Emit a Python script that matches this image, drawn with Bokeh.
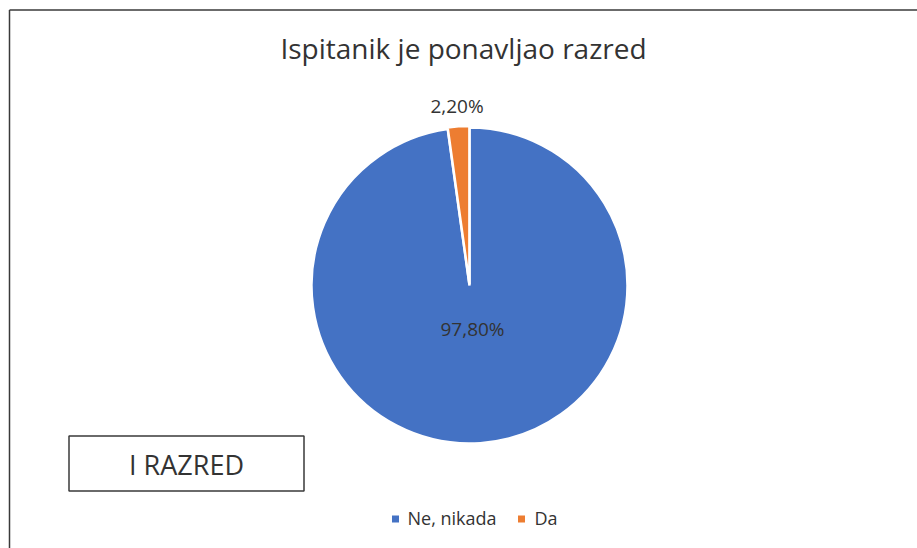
import math
from bokeh.plotting import figure
from bokeh.models import Range1d, ColumnDataSource
from bokeh.core.properties import value
from bokeh.embed import file_html
from bokeh.resources import INLINE

# ---- data ----
categories = ["Ne, nikada", "Da"]
values = [97.8, 2.2]
colors = ["#4472C4", "#ED7D31"]
title_text = "Ispitanik je ponavljao razred"
box_text = "I RAZRED"

W, H = 917, 548
OX, OY = 0, 0  # page offset of canvas


def Y(sy):
    return (H + OY) - sy


p = figure(width=W, height=H, output_backend="svg", toolbar_location=None,
           x_range=Range1d(OX, OX + W), y_range=Range1d(0, H),
           x_axis_location=None, y_axis_location=None, min_border=0)
p.grid.visible = False
p.outline_line_color = None
p.background_fill_color = "white"
p.border_fill_color = "white"

FONT = value("Open Sans")
TXT = "#333333"

# chart frame (right/bottom edges lie outside the window)
p.segment(x0=[9, 9], y0=[Y(9.5), Y(9.5)], x1=[9, 940], y1=[Y(560), Y(9.5)],
          line_color="#3a3a3a", line_width=1.5)

# title
p.text(x=[463], y=[Y(47)], text=[title_text], text_font=FONT, text_font_size="28px",
       text_color=TXT, text_align="center", text_baseline="middle")

# pie
cx, cy, r = 469, Y(285), 158
total = sum(values)
starts, ends, mids = [], [], []
acc = 0.0
for v in values:
    a0 = math.pi / 2 - 2 * math.pi * acc / total
    acc += v
    a1 = math.pi / 2 - 2 * math.pi * acc / total
    starts.append(a0)
    ends.append(a1)
    mids.append((a0 + a1) / 2)

explode = [0, 1.5]
xs = [cx + e * math.cos(m) for e, m in zip(explode, mids)]
ys = [cy + e * math.sin(m) for e, m in zip(explode, mids)]
src = ColumnDataSource(dict(x=xs, y=ys, start=starts, end=ends, color=colors))
p.wedge(x="x", y="y", radius=r, start_angle="start", end_angle="end",
        direction="clock", fill_color="color", line_color="white", line_width=2.5,
        source=src)

# data labels
label_r = [44, 180]
lx = [cx + lr * math.cos(m) for lr, m in zip(label_r, mids)]
ly = [cy + lr * math.sin(m) for lr, m in zip(label_r, mids)]
labels = [f"{v:.2f}%".replace(".", ",") for v in values]
p.text(x=lx, y=ly, text=labels, text_font=FONT, text_font_size="19px",
       text_color=TXT, text_align="center", text_baseline="middle")

# "I RAZRED" box
p.quad(left=[68.5], right=[303.5], top=[Y(435.5)], bottom=[Y(490.5)],
       fill_color="white", line_color="#3a3a3a", line_width=1.5)
p.text(x=[186], y=[Y(463.5)], text=[box_text], text_font=FONT, text_font_size="27px",
       text_color=TXT, text_align="center", text_baseline="middle")

# legend
leg_sq_x = [395, 521]
leg_tx = [407, 534]
leg_y = Y(518.5)
p.scatter(x=leg_sq_x, y=[leg_y] * 2, marker="square", size=7, fill_color=colors,
          line_color=None)
p.text(x=leg_tx, y=[Y(517.5)] * 2, text=categories, text_font=FONT, text_font_size="18px",
       text_color=TXT, text_align="left", text_baseline="middle")

open("out.html", "w").write(file_html(p, INLINE))
